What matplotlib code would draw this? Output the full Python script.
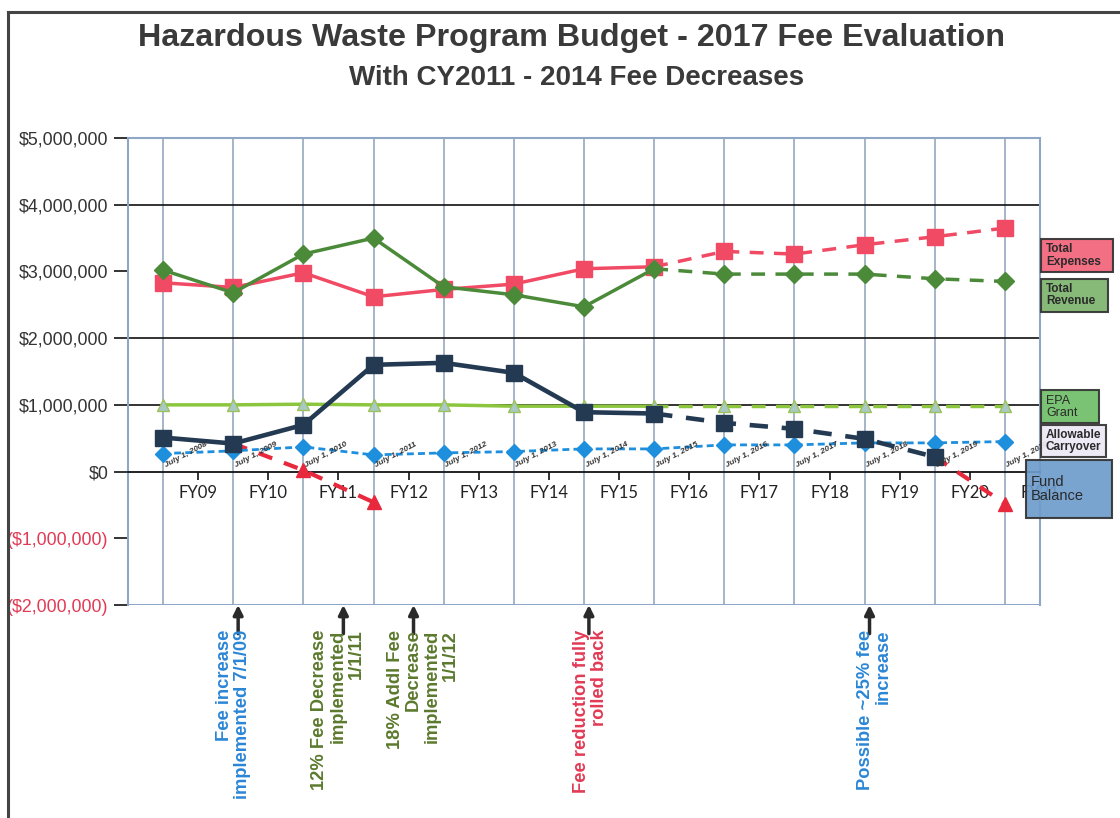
import matplotlib
matplotlib.use("Agg")
import numpy as np
import matplotlib.pyplot as plt
from matplotlib.patches import Rectangle
from matplotlib.lines import Line2D

plt.rcParams["font.family"] = ["Liberation Sans", "DejaVu Sans"]

# ---- data (dollars in millions) ----
fy_labels = ["FY09", "FY10", "FY11", "FY12", "FY13", "FY14", "FY15",
             "FY16", "FY17", "FY18", "FY19", "FY20", "FY21"]
dates = ["July 1, 2008", "July 1, 2009", "July 1, 2010", "July 1, 2011",
         "July 1, 2012", "July 1, 2013", "July 1, 2014", "July 1, 2015",
         "July 1, 2016", "July 1, 2017", "July 1, 2018", "July 1, 2019",
         "July 1, 2020"]
total_expenses = [2.83, 2.76, 2.98, 2.62, 2.73, 2.81, 3.04, 3.07, 3.30, 3.26, 3.40, 3.52, 3.65]
total_revenue = [3.02, 2.68, 3.26, 3.50, 2.77, 2.65, 2.47, 3.04, 2.96, 2.96, 2.96, 2.89, 2.85]
epa_grant = [1.00, 1.00, 1.01, 1.00, 1.00, 0.98, 0.98, 0.98, 0.98, 0.98, 0.98, 0.98, 0.98]
allowable_carryover = [0.27, 0.31, 0.37, 0.25, 0.28, 0.30, 0.34, 0.34, 0.40, 0.40, 0.43, 0.43, 0.45]
fund_balance = [0.51, 0.42, 0.70, 1.60, 1.63, 1.48, 0.89, 0.87, 0.73, 0.64, 0.49, 0.22, np.nan]
fund_balance_no_change = [np.nan, 0.42, 0.02, -0.46, np.nan, np.nan, np.nan, np.nan,
                          np.nan, np.nan, np.nan, 0.22, -0.48]
projection_start = 7  # FY16 onward is projected

y_ticks = [5, 4, 3, 2, 1, 0, -1, -2]
grid_levels = [4, 2, 1]

notes = ["Fee increase\nimplemented 7/1/09",
         "12% Fee Decrease\nimplemented\n1/1/11",
         "18% Addl Fee\nDecrease\nimplemented\n1/1/12",
         "Fee reduction fully\nrolled back",
         "Possible ~25% fee\nincrease"]
note_at = [1.07, 2.57, 3.57, 6.07, 10.07]
note_text_x = [1.0, 2.49, 3.70, 6.09, 10.14]
note_colors = ["#2B86D6", "#5C7A2E", "#5C7A2E", "#E23A55", "#2B86D6"]

legend_labels = ["Total\nExpenses", "Total\nRevenue", "EPA\nGrant",
                 "Allowable\nCarryover", "Fund\nBalance"]
legend_fills = ["#F2637A", "#7DB46D", "#6FBE68", "#ECE8F5", "#6E9CCB"]
legend_boxes = [(1041, 239, 72, 33), (1041, 279, 67, 33), (1041, 390, 58, 33),
                (1041, 425, 65, 32), (1026, 460, 86, 58)]
legend_sizes = [8.5, 8.5, 9, 8.5, 10.5]
legend_weights = ["bold", "bold", "normal", "bold", "normal"]

# ---- colours ----
RED = "#F04A64"
GREEN = "#4A8A38"
LIME = "#8CC63F"
NAVY = "#243A52"
BLUE = "#1E8FDD"
TRI_RED = "#E8283C"
FRAME = "#8FA6C4"

W, H = 1120, 818
fig = plt.figure(figsize=(W / 100, H / 100), dpi=100)
ax = fig.add_axes([128 / W, 1 - 605 / H, 912 / W, 467 / H])

x = np.arange(len(fy_labels))
M = 1e6
p = projection_start
dash = (0, (4, 3))


def series(vals, color, marker, ms, lw, zo, mfc=None, mec=None):
    v = np.array(vals) * M
    ax.plot(x[:p + 1], v[:p + 1], color=color, lw=lw, zorder=zo)
    ax.plot(x[p:], v[p:], color=color, lw=lw, ls=dash, zorder=zo)
    ax.plot(x, v, ls="none", marker=marker, ms=ms, zorder=zo + 0.1,
            mfc=mfc or color, mec=mec or color)


series(epa_grant, LIME, "^", 8, 2.5, 3, mfc="#A9C9C4", mec="#9CC25A")
ax.plot(x, np.array(fund_balance_no_change) * M, color=TRI_RED, lw=3,
        ls=(0, (3.5, 3)), marker="^", ms=10, zorder=3.5)
ax.plot(x, np.array(allowable_carryover) * M, color=BLUE, lw=2,
        ls=(0, (2.5, 1.5)), marker="D", ms=8, zorder=4)
series(fund_balance, NAVY, "s", 11, 3.3, 5)
series(total_expenses, RED, "s", 11, 2.5, 6)
series(total_revenue, GREEN, "D", 9, 2.5, 7)

# grid
ax.vlines(x, -2 * M, 5 * M, color="#8DA0B8", lw=1.1, zorder=1)
ax.hlines(np.array(grid_levels) * M, -0.5, 12.5, color="#111111", lw=1.2, zorder=1)

ax.set_xlim(-0.5, 12.5)
ax.set_ylim(-2 * M, 5 * M)

# y axis
yt = np.array(y_ticks) * M
ax.set_yticks(yt)
ax.set_yticklabels(["$%s" % format(int(v), ",") if v >= 0 else "($%s)" % format(int(-v), ",")
                    for v in yt])
for lbl, v in zip(ax.get_yticklabels(), yt):
    lbl.set_color("#E23A55" if v < 0 else "#333333")
ax.tick_params(axis="y", length=10, width=1.2, color="#111111", labelsize=12.8, pad=4)

# x axis on the zero line
ax.spines["bottom"].set_position(("data", 0))
ax.spines["bottom"].set_color("#111111")
ax.spines["bottom"].set_linewidth(1.3)
ax.set_xticks(x + 0.5)
ax.set_xticklabels(fy_labels, family=["Lato", "DejaVu Sans"])
ax.tick_params(axis="x", length=6, width=1.2, color="#111111", labelsize=12,
               labelcolor="#222222", pad=4)
for s in ["left", "top", "right"]:
    ax.spines[s].set_color(FRAME)
    ax.spines[s].set_linewidth(1.5)
ax.axhline(-2 * M, color=FRAME, lw=1.5, zorder=1)

# date labels
for xi, d in zip(x, dates):
    ax.text(xi + 0.05, 0.04 * M, d, rotation=28, rotation_mode="anchor",
            fontsize=6, ha="left", va="bottom", color="#333333",
            style="italic", weight="bold", zorder=8)

# notes under the chart
for txt, xa, xt, c in zip(notes, note_at, note_text_x, note_colors):
    ax.annotate("", xy=(xa, -2.0 * M), xytext=(xa, -2.43 * M),
                arrowprops=dict(arrowstyle="-|>", color="#2a2a2a", lw=2.5,
                                mutation_scale=14, shrinkA=0, shrinkB=0),
                annotation_clip=False)
    ax.text(xt, -2.37 * M, txt, rotation=90, ha="center", va="top",
            multialignment="right", fontsize=13.2, weight="bold", color=c,
            linespacing=1.1, clip_on=False)

# side legend boxes
for lab, fc, (bx, by, bw, bh), fs, fw in zip(legend_labels, legend_fills,
                                             legend_boxes, legend_sizes, legend_weights):
    fig.patches.append(Rectangle((bx / W, 1 - (by + bh) / H), bw / W, bh / H,
                                 transform=fig.transFigure, fc=fc, ec="#333333",
                                 lw=1.5, alpha=0.92, zorder=5))
    fig.text((bx + 5) / W, 1 - (by + bh / 2) / H, lab, ha="left", va="center",
             fontsize=fs, weight=fw, color="#2a2a2a", linespacing=1.0, zorder=6)

# titles
fig.text(572 / W, 1 - 38 / H, "Hazardous Waste Program Budget - 2017 Fee Evaluation",
         ha="center", va="center", fontsize=23.2, weight="bold", color="#3a3a3a")
fig.text(577 / W, 1 - 78 / H, "With CY2011 - 2014 Fee Decreases",
         ha="center", va="center", fontsize=20, weight="bold", color="#3a3a3a")

# page border
fig.add_artist(Line2D([8 / W, 8 / W], [0, 1 - 12 / H], color="#444444", lw=2.2))
fig.add_artist(Line2D([8 / W, 1], [1 - 12 / H, 1 - 12 / H], color="#444444", lw=2.2))

fig.savefig("out.png", dpi=100, facecolor="white")
